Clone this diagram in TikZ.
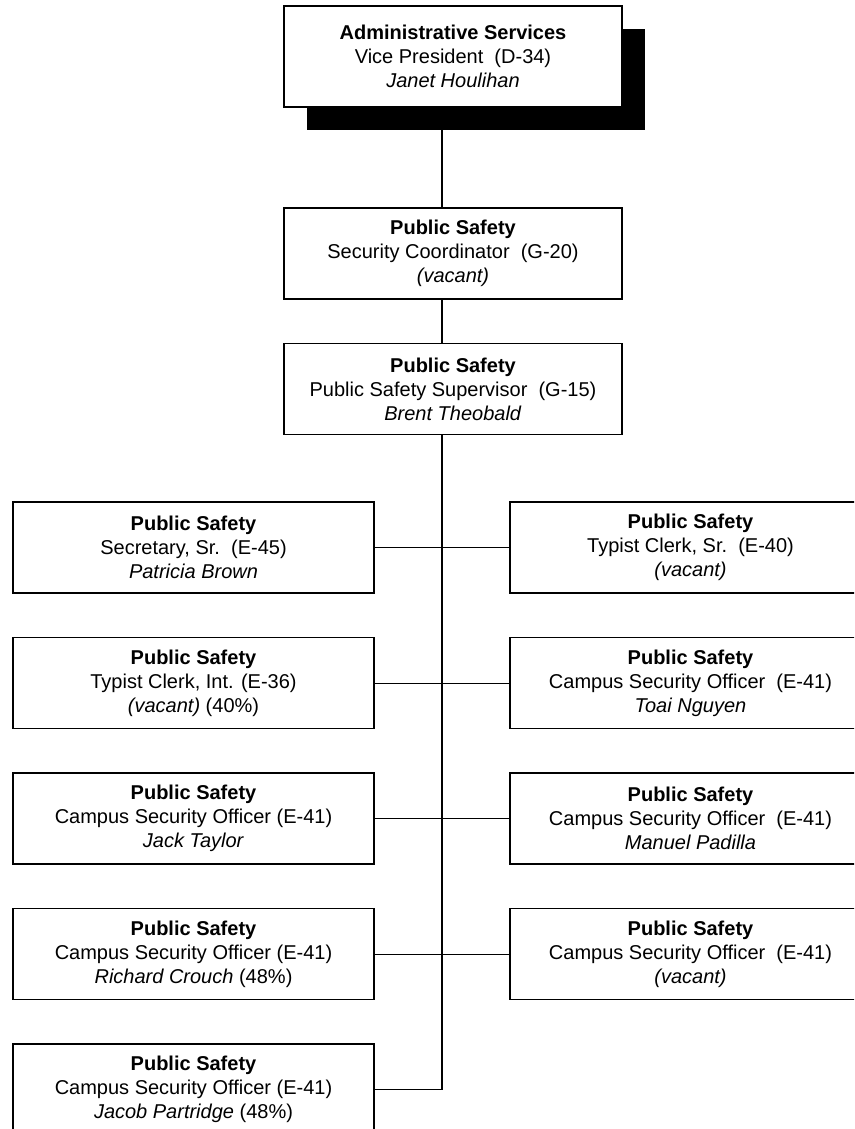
\documentclass[tikz,border=0pt]{standalone}
\usepackage{fontspec}
\setmainfont{Liberation Sans}
\usetikzlibrary{positioning,shadows}

\begin{document}
\begin{tikzpicture}[x=0.75pt, y=-0.75pt, node distance=32.4pt,
    every node/.style={font=\fontsize{15}{18}\selectfont}]
  \tikzset{
    post/.style={draw, rectangle, line width=1pt, fill=white, align=center, inner sep=0pt, minimum width=270.75pt, minimum height=68.25pt, text centered},
    midpost/.style={post, minimum width=253.5pt},
    headpost/.style={post, minimum width=253.5pt, minimum height=75.75pt,
      drop shadow={shadow xshift=17pt, shadow yshift=-17.5pt, fill=black, opacity=1}},
    link/.style={draw, line width=0.8pt}
  }
  \path[use as bounding box, clip] (0,0) rectangle (854,1129);

  \node[headpost] (vp) at (453,56.5) {\textbf{Administrative Services}\\Vice President\ \ (D-34)\\\textit{Janet Houlihan}};
  \node[midpost, below=74.75pt of vp] (coord) {\textbf{Public Safety}\\Security Coordinator\ \ (G-20)\\\textit{(vacant)}};
  \node[midpost, below=of coord] (sup) {\textbf{Public Safety}\\Public Safety Supervisor\ \ (G-15)\\\textit{Brent Theobald}};

  \node[post] (secsr) at (193.5,547.5) {\textbf{Public Safety}\\Secretary, Sr.\ \ (E-45)\\\textit{Patricia Brown}};
  \node[post, below=of secsr] (typint) {\textbf{Public Safety}\\Typist Clerk, Int. (E-36)\\\textit{(vacant)} (40\%)};
  \node[post, below=of typint] (taylor) {\textbf{Public Safety}\\Campus Security Officer (E-41)\\\textit{Jack Taylor}};
  \node[post, below=of taylor] (crouch) {\textbf{Public Safety}\\Campus Security Officer (E-41)\\\textit{Richard Crouch} (48\%)};
  \node[post, below=of crouch] (partridge) {\textbf{Public Safety}\\Campus Security Officer (E-41)\\\textit{Jacob Partridge} (48\%)};

  \node[post, right=101pt of secsr] (typsr) {\textbf{Public Safety}\\Typist Clerk, Sr.\ \ (E-40)\\\textit{(vacant)}};
  \node[post, right=101pt of typint] (nguyen) {\textbf{Public Safety}\\Campus Security Officer\ \ (E-41)\\\textit{Toai Nguyen}};
  \node[post, right=101pt of taylor] (padilla) {\textbf{Public Safety}\\Campus Security Officer\ \ (E-41)\\\textit{Manuel Padilla}};
  \node[post, right=101pt of crouch] (cso) {\textbf{Public Safety}\\Campus Security Officer\ \ (E-41)\\\textit{(vacant)}};

  \coordinate (trunk) at (442,0);
  \path[link] (vp.south -| trunk) -- (coord.north -| trunk);
  \path[link] (coord.south -| trunk) -- (sup.north -| trunk);
  \path[link] (sup.south -| trunk) |- (partridge.east);
  \path[link] (secsr) -- (typsr);
  \path[link] (typint) -- (nguyen);
  \path[link] (taylor) -- (padilla);
  \path[link] (crouch) -- (cso);
\end{tikzpicture}
\end{document}
